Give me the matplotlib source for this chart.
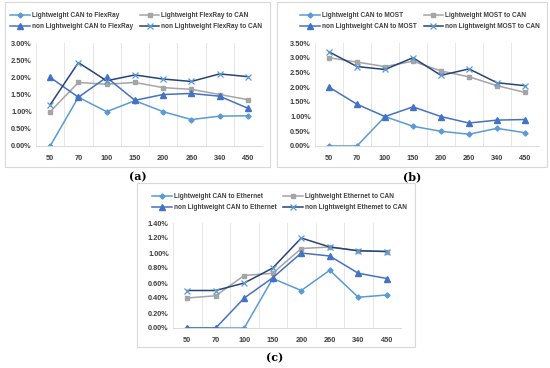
import matplotlib
matplotlib.use("Agg")
import matplotlib.pyplot as plt
from matplotlib.patches import Rectangle
from matplotlib.ticker import FuncFormatter
from matplotlib import font_manager

categories = ["50", "70", "100", "150", "200", "260", "340", "450"]

# (a) FlexRay
a_lw_can_to_x = [0.00, 1.42, 1.00, 1.32, 1.00, 0.77, 0.87, 0.88]
a_lw_x_to_can = [1.00, 1.85, 1.80, 1.85, 1.70, 1.65, 1.50, 1.35]
a_nlw_can_to_x = [2.00, 1.42, 2.00, 1.33, 1.50, 1.53, 1.45, 1.10]
a_nlw_x_to_can = [1.20, 2.43, 1.90, 2.07, 1.95, 1.88, 2.10, 2.02]
a_names = ["Lightweight CAN to FlexRay", "Lightweight FlexRay to CAN",
           "non Lightweight CAN to FlexRay", "non Lightweight FlexRay to CAN"]

# (b) MOST
b_lw_can_to_x = [0.00, 0.00, 1.00, 0.67, 0.50, 0.40, 0.60, 0.45]
b_lw_x_to_can = [3.00, 2.85, 2.70, 2.88, 2.55, 2.35, 2.05, 1.82]
b_nlw_can_to_x = [2.00, 1.42, 1.00, 1.33, 1.00, 0.78, 0.88, 0.90]
b_nlw_x_to_can = [3.20, 2.70, 2.60, 3.00, 2.40, 2.62, 2.15, 2.05]
b_names = ["Lightweight CAN to MOST", "Lightweight MOST to CAN",
           "non Lightweight CAN to MOST", "non Lightweight MOST to CAN"]

# (c) Ethernet
c_lw_can_to_x = [0.00, 0.00, 0.00, 0.66, 0.50, 0.77, 0.41, 0.44]
c_lw_x_to_can = [0.40, 0.43, 0.70, 0.73, 1.06, 1.08, 1.03, 1.02]
c_nlw_can_to_x = [0.00, 0.00, 0.40, 0.67, 1.00, 0.96, 0.73, 0.66]
c_nlw_x_to_can = [0.50, 0.50, 0.60, 0.80, 1.20, 1.08, 1.03, 1.02]
c_names = ["Lightweight CAN to Ethernet", "Lightweight Ethernet to CAN",
           "non Lightweight CAN to Ethernet", "non Lightweight Ethemet to CAN"]

avail = {f.name for f in font_manager.fontManager.ttflist}
FONT = "Liberation Sans Narrow" if "Liberation Sans Narrow" in avail else "Liberation Sans"
LEGSIZE = 5.7 if FONT == "Liberation Sans Narrow" else 4.7
TICKSIZE = 6.4 if FONT == "Liberation Sans Narrow" else 5.3

W, H = 550, 368
fig = plt.figure(figsize=(W / 100, H / 100), dpi=100)
fig.patch.set_facecolor("white")

def fx(px):
    return px / W

def fy(py):
    return 1 - py / H

styles = [
    dict(color="#5B9BD5", marker="D", ms=2.6, mfc="#5B9BD5", mec="#5B9BD5"),
    dict(color="#A5A5A5", marker="s", ms=3.2, mfc="#A5A5A5", mec="#A5A5A5"),
    dict(color="#4472C4", marker="^", ms=3.8, mfc="#4472C4", mec="#4472C4"),
    dict(color="#264478", marker="x", ms=4.0, mfc="none", mec="#5B9BD5", mew=0.9),
]

def panel(box, axpx, ymax, ystep, series, names, label, labelpos, legpos, colsp):
    bx0, by0, bx1, by1 = box
    fig.patches.append(Rectangle((fx(bx0), fy(by1)), fx(bx1 - bx0), (by1 - by0) / H,
                                 transform=fig.transFigure, fill=False,
                                 edgecolor="#D9D9D9", linewidth=0.8))
    l, r, t, b = axpx
    ax = fig.add_axes([fx(l), fy(b), fx(r - l), (b - t) / H])
    x = list(range(len(categories)))
    handles = []
    for vals, st, nm in zip(series, styles, names):
        h, = ax.plot(x, vals, linewidth=1.1, label=nm, **st)
        handles.append(h)
    ax.set_xlim(-0.5, len(categories) - 0.5)
    ax.set_ylim(0, ymax)
    yt = [i * ystep for i in range(int(round(ymax / ystep)) + 1)]
    ax.set_yticks(yt)
    ax.yaxis.set_major_formatter(FuncFormatter(lambda v, p: f"{v:.2f}%"))
    ax.set_xticks(x)
    ax.set_xticklabels(categories)
    ax.set_xticks([i + 0.5 for i in range(-1, len(categories))], minor=True)
    ax.grid(True, which="minor", axis="x", color="#E6E6E6", linewidth=0.7)
    ax.grid(False, which="major")
    ax.tick_params(which="both", length=0)
    ax.tick_params(axis="both", labelsize=TICKSIZE, colors="#404040", pad=3)
    for lab in ax.get_xticklabels() + ax.get_yticklabels():
        lab.set_fontweight("bold")
        lab.set_fontfamily(FONT)
    ax.tick_params(axis="x", pad=6.5)
    for s in ["top", "right", "left"]:
        ax.spines[s].set_visible(False)
    ax.spines["bottom"].set_color("#D9D9D9")
    ax.spines["bottom"].set_linewidth(0.7)
    ax.set_facecolor("none")
    order = [0, 2, 1, 3]
    leg = ax.legend([handles[i] for i in order], [names[i] for i in order],
                    ncol=2, loc="center left", bbox_to_anchor=(fx(legpos[0]), fy(legpos[1])),
                    bbox_transform=fig.transFigure, frameon=False,
                    prop=dict(family=FONT, size=LEGSIZE, weight="bold"),
                    handlelength=3.0, columnspacing=colsp, labelspacing=0.65,
                    handletextpad=0.3, borderaxespad=0, borderpad=0)
    for txt in leg.get_texts():
        txt.set_color("#404040")
    fig.text(fx(labelpos[0]), fy(labelpos[1]), label, ha="center", va="center",
             fontsize=8, fontfamily="DejaVu Serif", fontweight="bold")
    return ax

panel((5, 2, 270, 167), (36, 262, 43, 146), 3.0, 0.5,
      [a_lw_can_to_x, a_lw_x_to_can, a_nlw_can_to_x, a_nlw_x_to_can],
      a_names, "(a)", (138, 177), (10, 21), 1.1)
panel((277, 2, 547, 167), (315, 539, 43, 146), 3.5, 0.5,
      [b_lw_can_to_x, b_lw_x_to_can, b_nlw_can_to_x, b_nlw_x_to_can],
      b_names, "(b)", (412, 177), (300, 21), 1.1)
panel((137, 183, 415, 347), (173, 401, 223, 328), 1.4, 0.2,
      [c_lw_can_to_x, c_lw_x_to_can, c_nlw_can_to_x, c_nlw_x_to_can],
      c_names, "(c)", (275, 358), (152, 202), 1.1)

fig.savefig("out.png", dpi=100, facecolor="white")
